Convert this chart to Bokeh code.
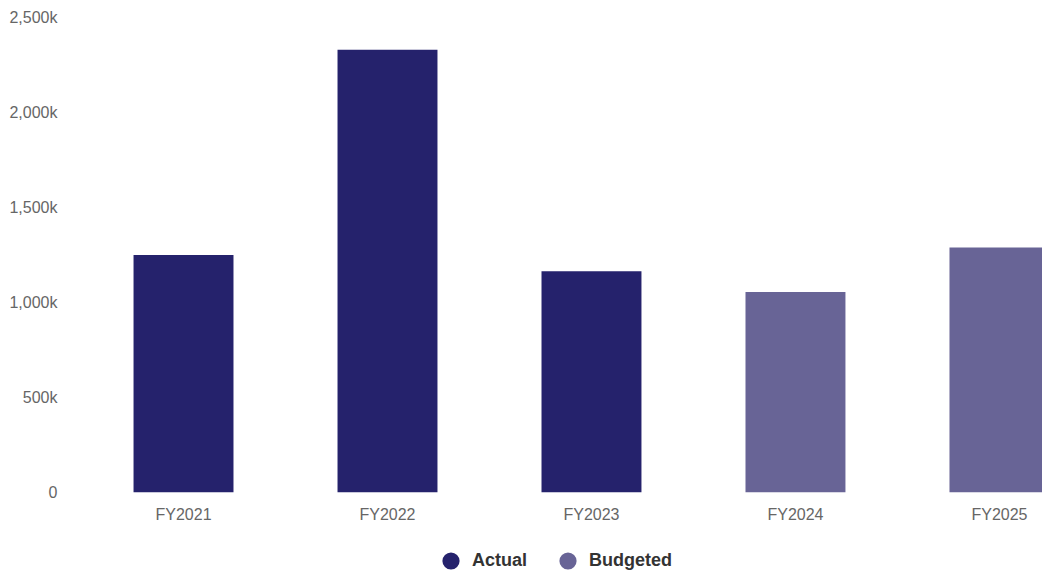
from bokeh.plotting import figure
from bokeh.layouts import column
from bokeh.models import (Range1d, FixedTicker, CustomJSTickFormatter, ColumnDataSource,
                          Legend, LegendItem)
from bokeh.embed import file_html
from bokeh.resources import INLINE

# Fiscal-year spending, actual vs budgeted
years = ["FY2021", "FY2022", "FY2023", "FY2024", "FY2025"]
amounts = [1250000, 2330000, 1165000, 1055000, 1290000]
status = ["Actual", "Actual", "Actual", "Budgeted", "Budgeted"]
y_ticks = [0, 500000, 1000000, 1500000, 2000000, 2500000]
series = ["Actual", "Budgeted"]

colors = {"Actual": "#25226c", "Budgeted": "#686496"}

p = figure(width=1042, height=525, output_backend="svg", toolbar_location=None,
           x_range=Range1d(-0.554, 4.211), y_range=Range1d(0, 2500000),
           min_border_left=70, min_border_right=0, min_border_top=17, min_border_bottom=33)
p.outline_line_color = None
p.xgrid.visible = False
p.ygrid.visible = False

sources = {}
for s in series:
    idx = [i for i, v in enumerate(status) if v == s]
    sources[s] = dict(x=idx, top=[amounts[i] for i in idx])
    p.vbar(x="x", top="top", bottom=0, width=0.49, source=ColumnDataSource(sources[s]),
           fill_color=colors[s], line_color=None)

for ax in (p.xaxis[0], p.yaxis[0]):
    ax.axis_line_color = None
    ax.major_tick_line_color = None
    ax.minor_tick_line_color = None
    ax.major_label_text_font = "Liberation Sans"
    ax.major_label_text_font_size = "16px"
    ax.major_label_text_color = "#666666"

p.xaxis.ticker = FixedTicker(ticks=list(range(len(years))))
p.xaxis.major_label_overrides = {i: y for i, y in enumerate(years)}
p.xaxis.major_label_standoff = 7

p.yaxis.ticker = FixedTicker(ticks=y_ticks)
p.yaxis.formatter = CustomJSTickFormatter(code="""
    if (tick == 0) return '0';
    return (tick / 1000).toLocaleString('en-US') + 'k';
""")
p.yaxis.major_label_standoff = 7

# legend strip underneath the chart, with round markers
lg = figure(width=1042, height=46, output_backend="svg", toolbar_location=None,
            x_axis_type=None, y_axis_type=None, min_border=0,
            x_range=Range1d(0, 1), y_range=Range1d(0, 1))
lg.outline_line_color = None
lg.xgrid.visible = False
lg.ygrid.visible = False

items = []
for s in series:
    r = lg.scatter(x=sources[s]["x"], y=sources[s]["top"], marker="circle",
                   fill_color=colors[s], line_color=None, visible=False)
    items.append(LegendItem(label=s, renderers=[r]))

legend = Legend(items=items, orientation="horizontal", location=(359, -12),
                glyph_width=43, glyph_height=45, label_standoff=0, spacing=19,
                padding=0, margin=0, border_line_color=None, background_fill_alpha=0,
                label_text_font="Liberation Sans", label_text_font_size="18px",
                label_text_font_style="bold", label_text_color="#333333")
lg.add_layout(legend)

layout = column(p, lg, spacing=0)

open("out.html", "w").write(file_html(layout, INLINE))
